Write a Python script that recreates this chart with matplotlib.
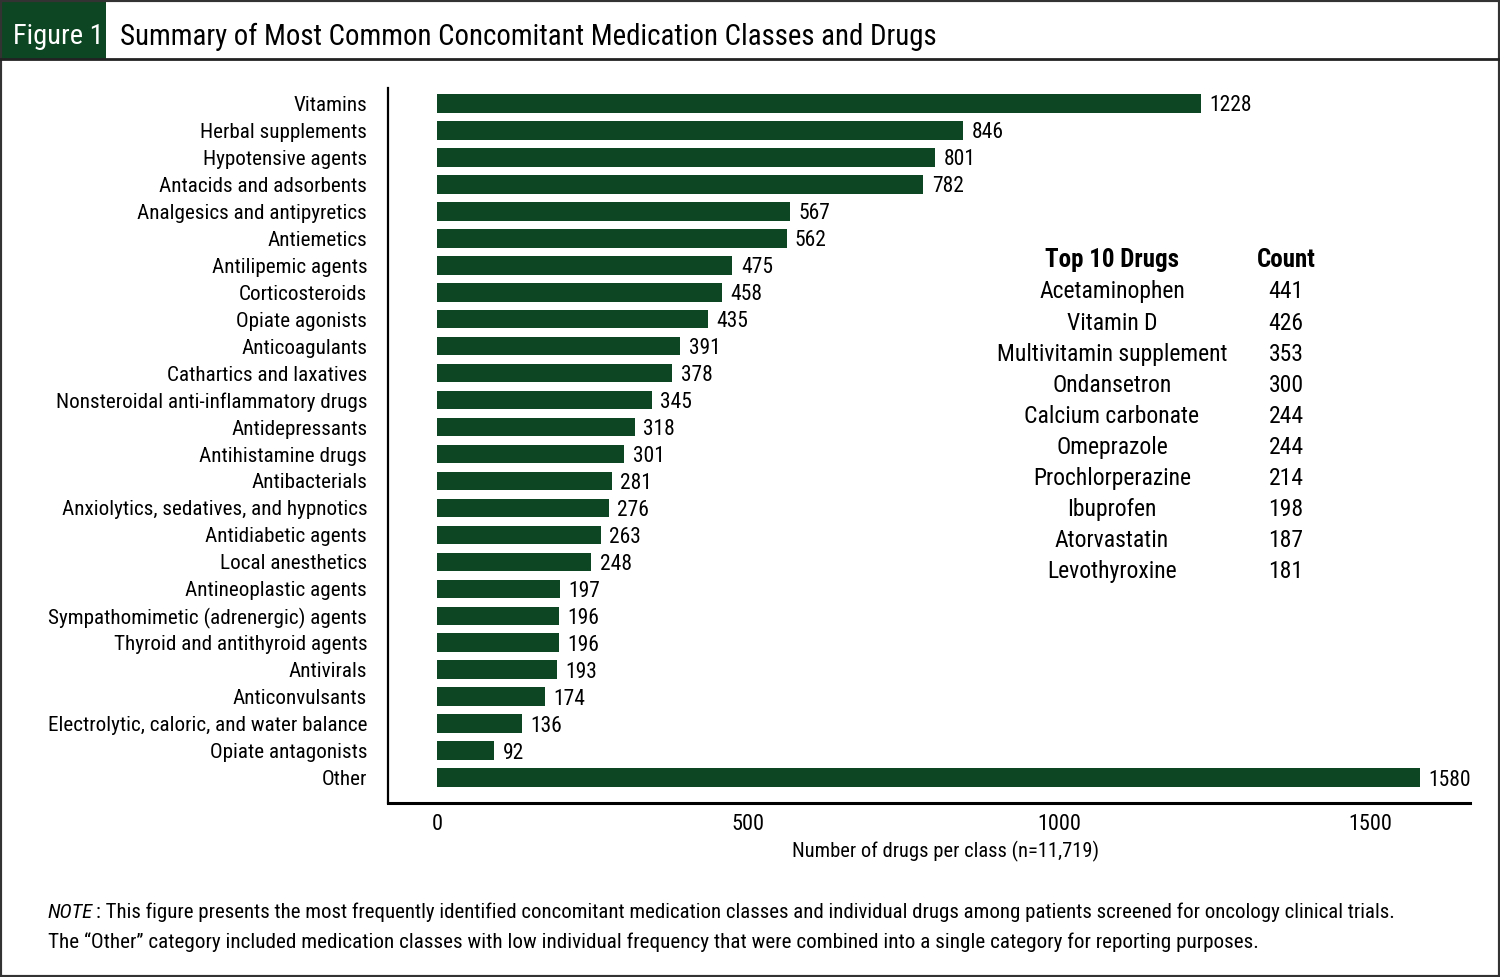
import matplotlib
matplotlib.use("Agg")
import matplotlib.pyplot as plt
from matplotlib import font_manager
from matplotlib.patches import Rectangle
from matplotlib.lines import Line2D

# pick a narrow font if one is installed
names = {f.name for f in font_manager.fontManager.ttflist}
family = ['DejaVu Sans']
for cand in ['Roboto Condensed', 'Liberation Sans Narrow', 'Open Sans Condensed']:
    if cand in names:
        family = [cand, 'DejaVu Sans']
        break
plt.rcParams['font.family'] = family

classes = [
    'Vitamins', 'Herbal supplements', 'Hypotensive agents', 'Antacids and adsorbents',
    'Analgesics and antipyretics', 'Antiemetics', 'Antilipemic agents', 'Corticosteroids',
    'Opiate agonists', 'Anticoagulants', 'Cathartics and laxatives',
    'Nonsteroidal anti-inflammatory drugs', 'Antidepressants', 'Antihistamine drugs',
    'Antibacterials', 'Anxiolytics, sedatives, and hypnotics', 'Antidiabetic agents',
    'Local anesthetics', 'Antineoplastic agents', 'Sympathomimetic (adrenergic) agents',
    'Thyroid and antithyroid agents', 'Antivirals', 'Anticonvulsants',
    'Electrolytic, caloric, and water balance', 'Opiate antagonists', 'Other',
]
counts = [1228, 846, 801, 782, 567, 562, 475, 458, 435, 391, 378, 345, 318, 301,
          281, 276, 263, 248, 197, 196, 196, 193, 174, 136, 92, 1580]

top_drugs = ['Acetaminophen', 'Vitamin D', 'Multivitamin supplement', 'Ondansetron',
             'Calcium carbonate', 'Omeprazole', 'Prochlorperazine', 'Ibuprofen',
             'Atorvastatin', 'Levothyroxine']
top_counts = [441, 426, 353, 300, 244, 244, 214, 198, 187, 181]

xticks = [0, 500, 1000, 1500]

GREEN = '#0d4622'
W, H = 1500, 977

fig = plt.figure(figsize=(W / 100, H / 100), dpi=100)
ax = fig.add_axes([388 / W, 1 - 803 / H, (1470 - 388) / W, (803 - 88) / H])

ypos = list(range(len(classes)))
ax.barh(ypos, counts, height=0.7, color=GREEN)
for y, v in zip(ypos, counts):
    ax.annotate(str(v), (v, y), xytext=(6, 0), textcoords='offset points',
                va='center_baseline', ha='left', fontsize=15.5)

ax.set_yticks(ypos)
ax.set_yticklabels(classes, fontsize=15.2)
ax.set_ylim(len(classes) - 1 + 0.93, -0.56)
ax.set_xlim(-79, 1661)
ax.set_xticks(xticks)
ax.set_xticklabels([str(t) for t in xticks], fontsize=16)
ax.tick_params(length=0)
ax.tick_params(axis='x', pad=8)
ax.tick_params(axis='y', pad=15)
ax.set_xlabel('Number of drugs per class (n=11,719)', fontsize=14.8)
ax.xaxis.set_label_coords((945 - 388) / (1470 - 388), -(851 - 803) / (803 - 88))
ax.xaxis.label.set_va('center')
for s in ['top', 'right']:
    ax.spines[s].set_visible(False)
ax.spines['left'].set_linewidth(1.6)
ax.spines['bottom'].set_linewidth(2.2)

# top 10 drugs table
def fx(px):
    return px / W

def fy(py):
    return 1 - py / H

fig.text(fx(1112), fy(260), 'Top 10 Drugs', ha='center', va='center',
         fontsize=18, fontweight='bold')
fig.text(fx(1286), fy(260), 'Count', ha='center', va='center',
         fontsize=18, fontweight='bold')
for i, (d, c) in enumerate(zip(top_drugs, top_counts)):
    yy = 292 + i * 31.1
    fig.text(fx(1112), fy(yy), d, ha='center', va='center', fontsize=17)
    fig.text(fx(1286), fy(yy), str(c), ha='center', va='center', fontsize=17)

# header
fig.patches.append(Rectangle((fx(2), fy(59)), fx(106) - fx(2), fy(2) - fy(59),
                             transform=fig.transFigure, facecolor=GREEN,
                             edgecolor='none', zorder=0))
fig.text(fx(58), fy(34), 'Figure 1', color='white', ha='center', va='center_baseline',
         fontsize=20.5)
fig.text(fx(120), fy(34), 'Summary of Most Common Concomitant Medication Classes and Drugs',
         ha='left', va='center_baseline', fontsize=20.8)
fig.lines.append(Line2D([0, 1], [fy(59), fy(59)], transform=fig.transFigure,
                        color='#222222', linewidth=2))
fig.patches.append(Rectangle((0, 0), 1, 1, transform=fig.transFigure, fill=False,
                             edgecolor='#333333', linewidth=3))

# note
note = fig.text(fx(48), fy(913), 'NOTE', ha='left', va='center', fontsize=15,
                fontstyle='italic')
ax.annotate(': This figure presents the most frequently identified concomitant medication '
            'classes and individual drugs among patients screened for oncology clinical trials.',
            xy=(1, 0), xycoords=note, xytext=(2, 0), textcoords='offset points',
            ha='left', va='bottom', fontsize=15, annotation_clip=False)
fig.text(fx(48), fy(942), 'The \u201cOther\u201d category included medication classes with low '
         'individual frequency that were combined into a single category for reporting purposes.',
         ha='left', va='center', fontsize=15.2)

fig.savefig('out.png', dpi=100)
